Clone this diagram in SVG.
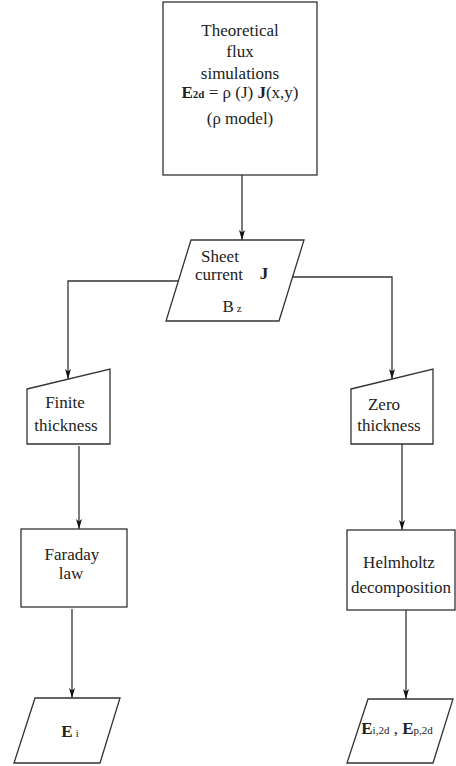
<svg xmlns="http://www.w3.org/2000/svg" width="456" height="766" viewBox="0 0 456 766">
<style>
.s{fill:#fff;stroke:#333;stroke-width:1.3}
.c{fill:none;stroke:#333;stroke-width:1.3}
text{font-family:'Liberation Serif','Times New Roman','DejaVu Serif',serif;font-size:17px;fill:#222;text-anchor:middle}
.b{font-weight:bold}
.sub{font-size:11px}
</style>
<defs>
<marker id="ah" viewBox="0 0 10 6" refX="10" refY="3" markerWidth="10" markerHeight="6" markerUnits="userSpaceOnUse" orient="auto">
<path d="M0,0 L10,3 L0,6 L2.5,3 z" fill="#111"/>
</marker>
</defs>
<g id="connectors">
<path class="c" d="M242,175 L242,240" marker-end="url(#ah)"/>
<path class="c" d="M178,281 L68,281 L68,379" marker-end="url(#ah)"/>
<path class="c" d="M293,277 L392,277 L392,379" marker-end="url(#ah)"/>
<path class="c" d="M79,446 L79,529" marker-end="url(#ah)"/>
<path class="c" d="M402,444 L402,530" marker-end="url(#ah)"/>
<path class="c" d="M72,609 L72,698" marker-end="url(#ah)"/>
<path class="c" d="M406,610 L406,699" marker-end="url(#ah)"/>
</g>
<g id="theory">
<rect class="s" x="163" y="2" width="154" height="173"/>
<text x="240" y="36">Theoretical</text>
<text x="240" y="57">flux</text>
<text x="240" y="79">simulations</text>
<text x="240" y="98" font-size="18"><tspan class="b">E</tspan><tspan class="b sub" font-size="12">2d</tspan> = ρ (J) <tspan class="b">J</tspan>(x,y)</text>
<text x="240" y="124">(ρ model)</text>
</g>
<g id="sheet">
<polygon class="s" points="191,240 304,240 279,321 166,321"/>
<text x="220" y="262" font-size="16">Sheet</text>
<text x="219" y="280" font-size="16">current</text>
<text x="264" y="279" class="b">J</text>
<text x="232" y="312">B<tspan class="sub" dx="3">z</tspan></text>
</g>
<g id="finite">
<polygon class="s" points="27,389 110,369 110,444 27,444"/>
<text x="65" y="408">Finite</text>
<text x="66" y="431">thickness</text>
</g>
<g id="zero">
<polygon class="s" points="351,389 433,369 433,444 351,444"/>
<text x="384" y="410">Zero</text>
<text x="389" y="431">thickness</text>
</g>
<g id="faraday">
<rect class="s" x="21" y="529" width="106" height="78"/>
<text x="72" y="560">Faraday</text>
<text x="71" y="579">law</text>
</g>
<g id="helmholtz">
<rect class="s" x="347" y="530" width="108" height="80"/>
<text x="399" y="568">Helmholtz</text>
<text x="401" y="593">decomposition</text>
</g>
<g id="ei">
<polygon class="s" points="35,698 120,698 100,763 14,763"/>
<text x="70" y="737"><tspan class="b">E</tspan><tspan class="sub" dx="3">i</tspan></text>
</g>
<g id="eip">
<polygon class="s" points="368,699 453,699 433,763 347,763"/>
<text x="397" y="734"><tspan class="b">E</tspan><tspan class="sub">i,2d</tspan> , <tspan class="b">E</tspan><tspan class="sub">p,2d</tspan></text>
</g>
</svg>
